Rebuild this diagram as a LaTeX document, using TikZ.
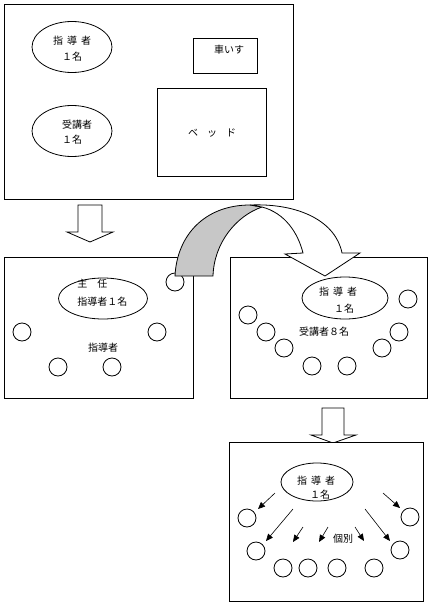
\documentclass[tikz,border=0pt]{standalone}
\usepackage{fontspec}
\setmainfont{Noto Sans CJK JP}
\usetikzlibrary{arrows.meta,shapes.geometric}
\begin{document}
\begin{tikzpicture}[x=1pt,y=-1pt,line width=0.8pt,
  box/.style={draw,fill=white,rectangle,anchor=north west,inner sep=0pt,outer sep=0pt},
  ell/.style={draw,fill=white,ellipse,inner sep=0pt,outer sep=0pt},
  seat/.style={draw,fill=white,circle,minimum size=18pt,inner sep=0pt},
  lbl/.style={font=\fontsize{10}{12}\selectfont,inner sep=0pt},
  hollow/.style={draw,fill=white,line join=miter},
  ptr/.style={-{Triangle[length=7pt,width=6pt]},line width=0.6pt}]
\useasboundingbox (0,0) rectangle (432,605);

% ---------- top room ----------
\node (room1) [box,minimum width=289pt,minimum height=195pt] at (4,4) {};
\node (e1) [ell,minimum width=80pt,minimum height=51pt] at (72,47) {};
\node (e2) [ell,minimum width=80pt,minimum height=51pt] at (72,131) {};
\node (wc) [box,minimum width=64pt,minimum height=35pt] at (193,38) {};
\node (bed) [box,minimum width=109pt,minimum height=88pt] at (157,88) {};
\node (t1a) [lbl] at (72,41) {指\hspace{4pt}導\hspace{4pt}者};
\node (t1b) [lbl] at (72,57) {１名};
\node (t2a) [lbl] at (77,125) {受講者};
\node (t2b) [lbl] at (72,140) {１名};
\node (twc) [lbl] at (229,50) {車いす};
\node (tbed) [lbl] at (212,133) {ベ\hspace{9pt}ッ\hspace{9pt}ド};

% hollow arrow 1
\path[hollow] (78,205) -- (102,205) -- (102,232) -- (113,232) -- (90,242) -- (67,232) -- (78,232) -- cycle;

% ---------- left middle room ----------
\node (room2) [box,minimum width=189pt,minimum height=141pt] at (4,257) {};
\node (e3) [ell,minimum width=89pt,minimum height=41pt] at (103,298.5) {};
\node (tl3a) [lbl,anchor=west] at (77,284) {主\hspace{10pt}任};
\node (tl3b) [lbl,anchor=west] at (77,302) {指導者１名};
\node (tl3c) [lbl] at (103,348) {指導者};
\node (L1) [seat] at (175,282) {};
\node (L2) [seat] at (22,332) {};
\node (L3) [seat] at (157,332) {};
\node (L4) [seat] at (58,367) {};
\node (L5) [seat] at (112,367) {};

% ---------- right middle room ----------
\node (room3) [box,minimum width=197pt,minimum height=141pt] at (230,257) {};
\node (e4) [ell,minimum width=86pt,minimum height=42pt] at (345,298) {};
\node (t4a) [lbl] at (338,292) {指\hspace{4pt}導\hspace{4pt}者};
\node (t4b) [lbl] at (344,309) {１名};
\node (t4c) [lbl] at (324,332) {受講者８名};
\node (R1) [seat] at (248,315) {};
\node (R2) [seat] at (266,332) {};
\node (R3) [seat] at (284,348) {};
\node (R4) [seat] at (312,366) {};
\node (R5) [seat] at (347,366) {};
\node (R6) [seat] at (382,348) {};
\node (R7) [seat] at (399,332) {};
\node (R8) [seat] at (408,299) {};

% ---------- curved arrow ----------
\path[draw,fill=black!22] (175,276) .. controls (177,235) and (205,205) .. (250,205)
  -- (262,207) .. controls (236,216) and (214,243) .. (213,276) -- cycle;
\path[draw,fill=white,line join=miter] (250,205) .. controls (300,203) and (336,222) .. (342,253)
  -- (360,253) -- (325,276) -- (285,254) -- (303,253)
  .. controls (298,233) and (285,213) .. (262,207) -- cycle;

% hollow arrow 2
\path[hollow] (322,408) -- (344,408) -- (344,435) -- (356,435) -- (333,443) -- (311,435) -- (322,435) -- cycle;

% ---------- bottom room ----------
\node (room4) [box,minimum width=194pt,minimum height=159pt] at (229,442) {};
\node (e5) [ell,minimum width=72pt,minimum height=38pt] at (317,482) {};
\node (t5a) [lbl] at (316,481) {指\hspace{4pt}導\hspace{4pt}者};
\node (t5b) [lbl] at (320,495) {１名};
\node (t5c) [lbl] at (343,539) {個別};
\node (B1) [seat] at (247,518) {};
\node (B2) [seat] at (410,517) {};
\node (B3) [seat] at (256,551) {};
\node (B4) [seat] at (400,550) {};
\node (B5) [seat] at (283,568) {};
\node (B6) [seat] at (308,568) {};
\node (B7) [seat] at (337,568) {};
\node (B8) [seat] at (374,568) {};

\coordinate (a1s) at (275,493); \coordinate (a1e) at (258,509);
\coordinate (a2s) at (293,509); \coordinate (a2e) at (266,541);
\coordinate (a3s) at (303,527); \coordinate (a3e) at (293,542);
\coordinate (a4s) at (328,527); \coordinate (a4e) at (319,542);
\coordinate (a5s) at (355,527); \coordinate (a5e) at (364,541);
\coordinate (a6s) at (365,509); \coordinate (a6e) at (390,541);
\coordinate (a7s) at (383,493); \coordinate (a7e) at (400,508);
\foreach \i in {1,...,7} { \draw[ptr] (a\i s) -- (a\i e); }
\end{tikzpicture}
\end{document}
